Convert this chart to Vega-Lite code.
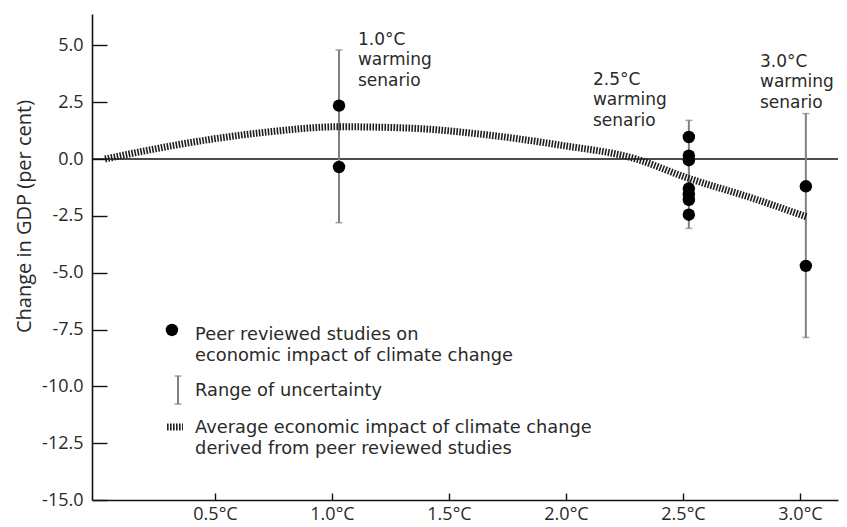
{
  "$schema": "https://vega.github.io/schema/vega-lite/v6.json",
  "width": 746,
  "height": 486,
  "autosize": {"type": "none"},
  "padding": {"left": 92, "top": 14, "right": 9, "bottom": 27},
  "background": "white",
  "config": {
    "view": {"stroke": null},
    "font": "Open Sans",
    "axis": {"grid": false, "domainColor": "#111", "domainWidth": 1.6, "tickColor": "#111", "tickWidth": 1.4, "labelColor": "#2a2a2a", "titleColor": "#2a2a2a", "labelFont": "Open Sans", "titleFont": "Open Sans"}
  },
  "datasets": {
    "curve": [
      {"x": 0.03, "y": 0.0},
      {"x": 0.22, "y": 0.4},
      {"x": 0.49, "y": 0.88},
      {"x": 0.735, "y": 1.2},
      {"x": 1.03, "y": 1.42},
      {"x": 1.33, "y": 1.36},
      {"x": 1.63, "y": 1.1},
      {"x": 1.97, "y": 0.62},
      {"x": 2.3, "y": 0.0},
      {"x": 2.51, "y": -0.8},
      {"x": 2.79, "y": -1.7},
      {"x": 3.03, "y": -2.55}
    ],
    "bars": [
      {"x": 1.03, "lo": -2.8, "hi": 4.8},
      {"x": 2.525, "lo": -3.05, "hi": 1.7},
      {"x": 3.025, "lo": -7.85, "hi": 2.0},
      {"x": 0.342, "lo": -10.778, "hi": -9.546}
    ],
    "dots": [
      {"x": 1.03, "y": 2.35},
      {"x": 1.03, "y": -0.35},
      {"x": 2.525, "y": 0.97},
      {"x": 2.525, "y": 0.15},
      {"x": 2.525, "y": -0.05},
      {"x": 2.525, "y": -1.3},
      {"x": 2.525, "y": -1.55},
      {"x": 2.525, "y": -1.8},
      {"x": 2.525, "y": -2.45},
      {"x": 3.025, "y": -1.2},
      {"x": 3.025, "y": -4.7},
      {"x": 0.316, "y": -7.52}
    ],
    "labels": [
      {"x": 1.111, "y": 5.038, "t": "1.0°C\nwarming\nsenario"},
      {"x": 2.115, "y": 3.278, "t": "2.5°C\nwarming\nsenario"},
      {"x": 2.829, "y": 4.07, "t": "3.0°C\nwarming\nsenario"}
    ],
    "legend": [
      {"x": 0.415, "y": -7.94, "t": "Peer reviewed studies on\neconomic impact of climate change"},
      {"x": 0.415, "y": -10.404, "t": "Range of uncertainty"},
      {"x": 0.415, "y": -12.032, "t": "Average economic impact of climate change\nderived from peer reviewed studies"}
    ],
    "legline": [
      {"x": 0.295, "y": -11.79},
      {"x": 0.363, "y": -11.79}
    ],
    "zero": [
      {"x": -0.0256, "x2": 3.1624, "y": 0}
    ]
  },
  "layer": [
    {
      "data": {"name": "zero"},
      "mark": {"type": "rule", "color": "#111", "strokeWidth": 1.5},
      "encoding": {
        "x": {"field": "x", "type": "quantitative", "scale": {"domain": [-0.0256, 3.1624], "nice": false, "zero": false},
          "axis": {"values": [0.5, 1, 1.5, 2, 2.5, 3], "labelExpr": "format(datum.value, '.1f') + '°C'", "title": null, "tickSize": -7, "labelPadding": 12, "labelFontSize": 18, "labelDx": 8}},
        "x2": {"field": "x2"},
        "y": {"field": "y", "type": "quantitative", "scale": {"domain": [-15, 6.38], "nice": false, "zero": false},
          "axis": {"values": [-15, -12.5, -10, -7.5, -5, -2.5, 0, 2.5, 5], "labelExpr": "replace(format(datum.value, '.1f'), '−', '-')", "title": "Change in GDP (per cent)", "tickSize": -15, "labelPadding": 24, "labelFontSize": 18, "titleFontSize": 20, "titleFontWeight": "normal", "titleX": -58, "titleY": 202, "titleBaseline": "bottom", "titleAngle": -90}}
      }
    },
    {
      "data": {"name": "bars"},
      "mark": {"type": "rule", "color": "#808080", "strokeWidth": 2},
      "encoding": {
        "x": {"field": "x", "type": "quantitative"},
        "y": {"field": "lo", "type": "quantitative"},
        "y2": {"field": "hi"}
      }
    },
    {
      "data": {"name": "bars"},
      "mark": {"type": "tick", "color": "#808080", "orient": "horizontal", "size": 7, "thickness": 1.5},
      "encoding": {
        "x": {"field": "x", "type": "quantitative"},
        "y": {"field": "lo", "type": "quantitative"}
      }
    },
    {
      "data": {"name": "bars"},
      "mark": {"type": "tick", "color": "#808080", "orient": "horizontal", "size": 7, "thickness": 1.5},
      "encoding": {
        "x": {"field": "x", "type": "quantitative"},
        "y": {"field": "hi", "type": "quantitative"}
      }
    },
    {
      "data": {"name": "curve"},
      "mark": {"type": "line", "color": "#1e1e1e", "strokeWidth": 7, "strokeDash": [1.6, 1.4], "interpolate": "monotone"},
      "encoding": {
        "x": {"field": "x", "type": "quantitative"},
        "y": {"field": "y", "type": "quantitative"}
      }
    },
    {
      "data": {"name": "legline"},
      "mark": {"type": "line", "color": "#1e1e1e", "strokeWidth": 7, "strokeDash": [1.6, 1.4]},
      "encoding": {
        "x": {"field": "x", "type": "quantitative"},
        "y": {"field": "y", "type": "quantitative"}
      }
    },
    {
      "data": {"name": "dots"},
      "mark": {"type": "point", "filled": true, "color": "#000", "opacity": 1, "size": 155},
      "encoding": {
        "x": {"field": "x", "type": "quantitative"},
        "y": {"field": "y", "type": "quantitative"}
      }
    },
    {
      "data": {"name": "labels"},
      "mark": {"type": "text", "align": "left", "baseline": "alphabetic", "lineBreak": "\n", "lineHeight": 20.5, "fontSize": 17, "font": "DejaVu Sans", "color": "#2a2a2a"},
      "encoding": {
        "x": {"field": "x", "type": "quantitative"},
        "y": {"field": "y", "type": "quantitative"},
        "text": {"field": "t"}
      }
    },
    {
      "data": {"name": "legend"},
      "mark": {"type": "text", "align": "left", "baseline": "alphabetic", "lineBreak": "\n", "lineHeight": 21.5, "fontSize": 17.8, "font": "DejaVu Sans", "color": "#2a2a2a"},
      "encoding": {
        "x": {"field": "x", "type": "quantitative"},
        "y": {"field": "y", "type": "quantitative"},
        "text": {"field": "t"}
      }
    }
  ]
}
